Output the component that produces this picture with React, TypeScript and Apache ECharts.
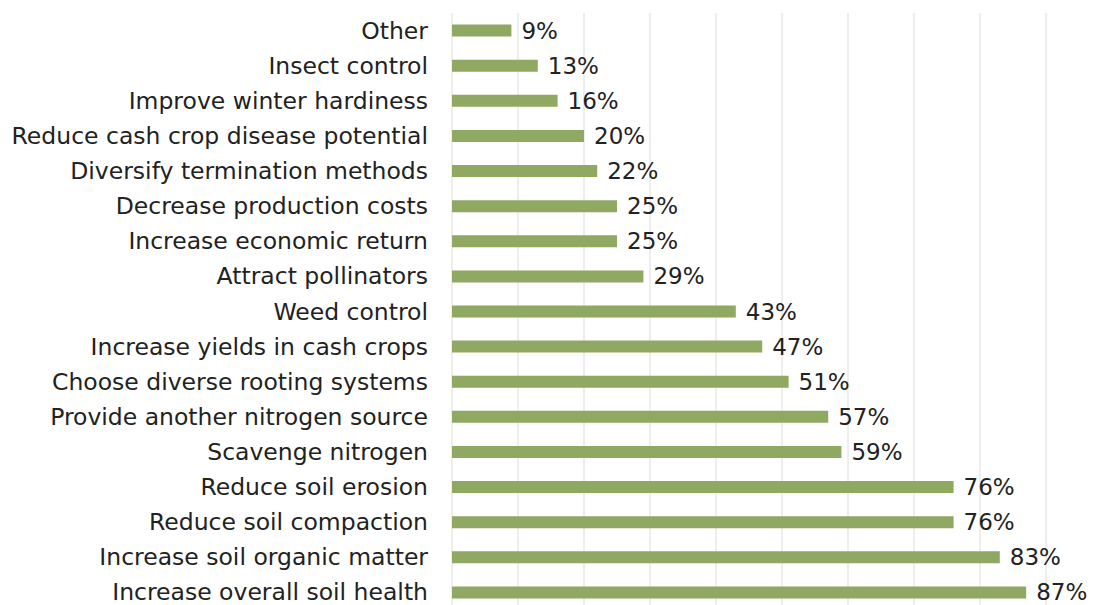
import React, { useEffect, useRef } from "react";
import * as echarts from "echarts";

const categories = [
  "Increase overall soil health",
  "Increase soil organic matter",
  "Reduce soil compaction",
  "Reduce soil erosion",
  "Scavenge nitrogen",
  "Provide another nitrogen source",
  "Choose diverse rooting systems",
  "Increase yields in cash crops",
  "Weed control",
  "Attract pollinators",
  "Increase economic return",
  "Decrease production costs",
  "Diversify termination methods",
  "Reduce cash crop disease potential",
  "Improve winter hardiness",
  "Insect control",
  "Other",
];
const values = [87, 83, 76, 76, 59, 57, 51, 47, 43, 29, 25, 25, 22, 20, 16, 13, 9];

export default function App() {
  const ref = useRef<HTMLDivElement>(null);
  useEffect(() => {
    document.body.style.margin = "0";
    const chart = echarts.init(ref.current!, null, { renderer: "svg" });
    chart.setOption({
      animation: false,
      backgroundColor: "#ffffff",
      grid: {
        left: 452,
        top: 13,
        width: 594,
        height: 597,
        containLabel: false,
        outerBoundsMode: "none",
      },
      xAxis: {
        type: "value",
        min: 0,
        max: 90,
        interval: 10,
        axisLabel: { show: false },
        axisLine: { show: false },
        axisTick: { show: false },
        splitLine: { show: true, lineStyle: { color: "#eeeeee", width: 2 } },
      },
      yAxis: {
        type: "category",
        data: categories,
        axisLine: { show: false },
        axisTick: { show: false },
        axisLabel: {
          color: "#222222",
          fontFamily: "DejaVu Sans",
          fontSize: 23.5,
          margin: 24,
        },
      },
      series: [
        {
          type: "bar",
          data: values,
          barWidth: 12,
          itemStyle: { color: "#8fa862" },
          label: {
            show: true,
            position: "right",
            distance: 10,
            formatter: "{c}%",
            color: "#222222",
            fontFamily: "DejaVu Sans",
            fontSize: 23,
          },
        },
      ],
    });
    return () => chart.dispose();
  }, []);
  return <div ref={ref} style={{ width: 1099, height: 605 }} />;
}
